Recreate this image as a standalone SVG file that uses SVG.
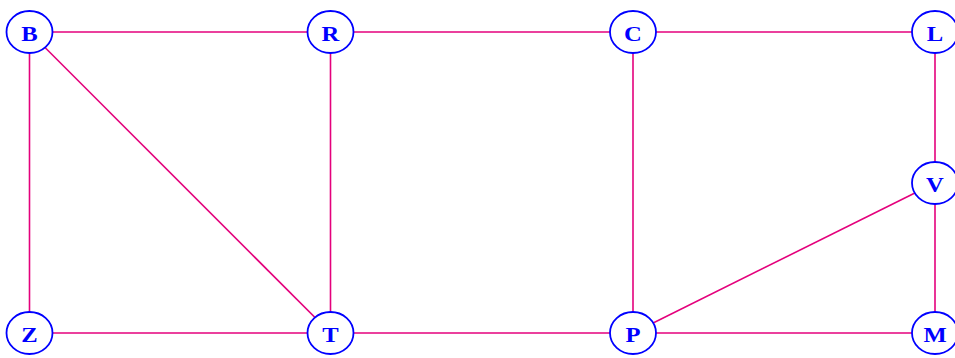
<svg xmlns="http://www.w3.org/2000/svg" width="955" height="358" viewBox="0 0 955 358">
<style>
.e{stroke:#e4007c;stroke-width:1.6;fill:none}
.n ellipse{fill:#fff;stroke:#0000ff;stroke-width:1.8}
.n text{fill:#0000ff;font-family:"Liberation Serif",serif;font-weight:bold;font-size:22px;text-anchor:middle;dominant-baseline:central}
</style>
<rect width="955" height="358" fill="#fff"/>
<g id="edges">
<line class="e" x1="29.5" y1="32" x2="330.5" y2="32"/>
<line class="e" x1="330.5" y1="32" x2="633" y2="32"/>
<line class="e" x1="633" y1="32" x2="935" y2="32"/>
<line class="e" x1="935" y1="32" x2="935" y2="183"/>
<line class="e" x1="935" y1="183" x2="935" y2="333"/>
<line class="e" x1="29.5" y1="32" x2="29.5" y2="333"/>
<line class="e" x1="29.5" y1="32" x2="330.5" y2="333"/>
<line class="e" x1="330.5" y1="32" x2="330.5" y2="333"/>
<line class="e" x1="633" y1="32" x2="633" y2="333"/>
<line class="e" x1="29.5" y1="333" x2="330.5" y2="333"/>
<line class="e" x1="330.5" y1="333" x2="633" y2="333"/>
<line class="e" x1="633" y1="333" x2="935" y2="333"/>
<line class="e" x1="633" y1="333" x2="935" y2="183"/>
</g>
<g id="B" class="n"><ellipse cx="29.5" cy="32" rx="23" ry="21"/><text transform="translate(29.5,33) scale(1.12,1)">B</text></g>
<g id="R" class="n"><ellipse cx="330.5" cy="32" rx="23" ry="21"/><text transform="translate(330.5,33) scale(1.12,1)">R</text></g>
<g id="C" class="n"><ellipse cx="633" cy="32" rx="23" ry="21"/><text transform="translate(633,33) scale(1.12,1)">C</text></g>
<g id="L" class="n"><ellipse cx="935" cy="32" rx="23" ry="21"/><text transform="translate(935,33) scale(1.12,1)">L</text></g>
<g id="V" class="n"><ellipse cx="935" cy="183" rx="23" ry="21"/><text transform="translate(935,184) scale(1.12,1)">V</text></g>
<g id="Z" class="n"><ellipse cx="29.5" cy="333" rx="23" ry="21"/><text transform="translate(29.5,334) scale(1.12,1)">Z</text></g>
<g id="T" class="n"><ellipse cx="330.5" cy="333" rx="23" ry="21"/><text transform="translate(330.5,334) scale(1.12,1)">T</text></g>
<g id="P" class="n"><ellipse cx="633" cy="333" rx="23" ry="21"/><text transform="translate(633,334) scale(1.12,1)">P</text></g>
<g id="M" class="n"><ellipse cx="935" cy="333" rx="23" ry="21"/><text transform="translate(935,334) scale(1.12,1)">M</text></g>
</svg>
